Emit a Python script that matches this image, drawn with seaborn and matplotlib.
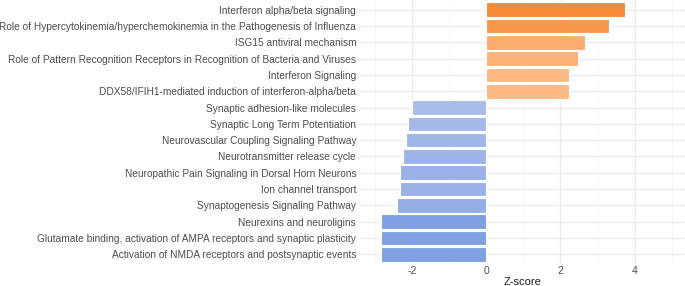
import numpy as np
import pandas as pd
import seaborn as sns
import matplotlib.pyplot as plt
from matplotlib.colors import LinearSegmentedColormap

pathways = [
    "Interferon alpha/beta signaling",
    "Role of Hypercytokinemia/hyperchemokinemia in the Pathogenesis of Influenza",
    "ISG15 antiviral mechanism",
    "Role of Pattern Recognition Receptors in Recognition of Bacteria and Viruses",
    "Interferon Signaling",
    "DDX58/IFIH1-mediated induction of interferon-alpha/beta",
    "Synaptic adhesion-like molecules",
    "Synaptic Long Term Potentiation",
    "Neurovascular Coupling Signaling Pathway",
    "Neurotransmitter release cycle",
    "Neuropathic Pain Signaling in Dorsal Horn Neurons",
    "Ion channel transport",
    "Synaptogenesis Signaling Pathway",
    "Neurexins and neuroligins",
    "Glutamate binding, activation of AMPA receptors and synaptic plasticity",
    "Activation of NMDA receptors and postsynaptic events",
]
zscores = [3.75, 3.32, 2.65, 2.46, 2.24, 2.24,
           -2.0, -2.12, -2.18, -2.24, -2.33, -2.33, -2.40,
           -2.83, -2.83, -2.83]

df = pd.DataFrame({"pathway": pathways, "z": zscores})

# fill gradient: dark blue -> light blue | light orange -> dark orange
cmap = LinearSegmentedColormap.from_list(
    "zfill",
    [(0.0, "#80a0e1"), (0.147, "#aabde9"), (0.5, "#e8ecf8"),
     (0.5, "#fde3cc"), (0.80, "#fdb985"), (1.0, "#f58b38")])

def to_unit(v):
    if v < 0:
        return 0.5 * (v + 2.83) / 2.83
    return 0.5 + 0.5 * v / 3.75

palette = {p: cmap(to_unit(v)) for p, v in zip(pathways, zscores)}

sns.set_theme(style="whitegrid")
plt.rcParams["font.family"] = ["Liberation Sans", "DejaVu Sans"]
plt.rcParams["axes.unicode_minus"] = False

fig, ax = plt.subplots(figsize=(6.85, 2.86), dpi=100)
fig.subplots_adjust(left=0.526, right=1.0, top=1.0, bottom=0.077)

sns.barplot(data=df, x="z", y="pathway", hue="pathway", palette=palette,
            legend=False, orient="h", width=0.9, edgecolor="white",
            linewidth=0.8, saturation=1, ax=ax, zorder=3)

ax.set_xlim(-3.4, 5.36)
ax.set_ylim(15.6, -0.6)
ax.set_xticks([-2, 0, 2, 4])
ax.set_xticks([-3, -1, 1, 3, 5], minor=True)
ax.grid(True, which="major", color="#ebebeb", linewidth=0.9, zorder=0)
ax.grid(True, which="minor", axis="x", color="#f3f3f3", linewidth=0.5, zorder=0)
ax.set_axisbelow(True)
for s in ax.spines.values():
    s.set_visible(False)
ax.tick_params(axis="y", length=0, pad=3, labelsize=7.3, labelcolor="#4d4d4d")
ax.tick_params(axis="x", length=0, pad=1.5, labelsize=7.5, labelcolor="#4d4d4d")
ax.set_xlabel("Z-score", fontsize=8, color="#1a1a1a", labelpad=1)
ax.set_ylabel("")

fig.savefig("out.png", dpi=100)
